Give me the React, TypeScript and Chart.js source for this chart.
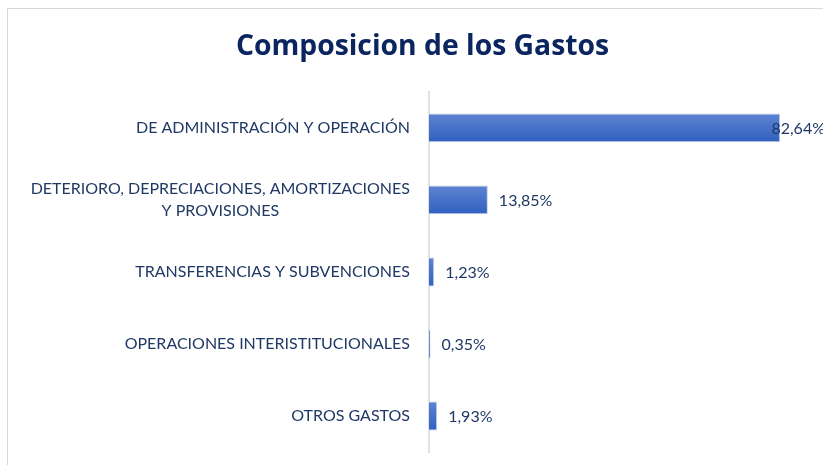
import React, { useEffect, useRef } from "react";
import { Chart, registerables } from "chart.js";

Chart.register(...registerables);

const chartTitle = "Composicion de los Gastos";
const categories: (string | string[])[] = [
  "DE ADMINISTRACIÓN Y OPERACIÓN",
  ["DETERIORO, DEPRECIACIONES, AMORTIZACIONES", "Y PROVISIONES"],
  "TRANSFERENCIAS Y SUBVENCIONES",
  "OPERACIONES INTERISTITUCIONALES",
  "OTROS GASTOS",
];
const values = [82.64, 13.85, 1.23, 0.35, 1.93];
const valueLabels = ["82,64%", "13,85%", "1,23%", "0,35%", "1,93%"];

const TEXT_COLOR = "#1f3864";
const TITLE_COLOR = "#0b2560";
const LABEL_FONT = "16px Lato";

const yLabelsPlugin = {
  id: "yLabels",
  afterDraw(chart: any) {
    const { ctx } = chart;
    const yScale = chart.scales.y;
    ctx.save();
    ctx.font = LABEL_FONT;
    ctx.fillStyle = TEXT_COLOR;
    ctx.textBaseline = "middle";
    ctx.textAlign = "center";
    const rightX = chart.chartArea.left - 19;
    const lh = 22;
    categories.forEach((c, i) => {
      const lines = Array.isArray(c) ? c : [c];
      const yc = yScale.getPixelForTick(i);
      const maxW = Math.max(...lines.map((l) => ctx.measureText(l).width));
      lines.forEach((l, j) => {
        const ly = yc + (j - (lines.length - 1) / 2) * lh;
        ctx.fillText(l, rightX - maxW / 2, ly);
      });
    });
    ctx.restore();
  },
};

const valueLabelsPlugin = {
  id: "valueLabels",
  afterDatasetsDraw(chart: any) {
    const { ctx } = chart;
    const meta = chart.getDatasetMeta(0);
    ctx.save();
    ctx.font = LABEL_FONT;
    ctx.fillStyle = TEXT_COLOR;
    ctx.textBaseline = "middle";
    ctx.textAlign = "left";
    const limit = 817;
    meta.data.forEach((bar: any, i: number) => {
      const txt = valueLabels[i];
      const w = ctx.measureText(txt).width;
      const x = Math.min(bar.x + 11, limit - w);
      ctx.fillText(txt, x, bar.y + 1);
    });
    ctx.restore();
  },
};

export default function App() {
  const ref = useRef<HTMLCanvasElement | null>(null);
  useEffect(() => {
    if (!ref.current) return;
    const chart = new Chart(ref.current, {
      type: "bar",
      data: {
        labels: categories as any,
        datasets: [
          {
            data: values,
            backgroundColor: (c: any) => {
              const ch = c.chart;
              const ys = ch.scales && ch.scales.y;
              if (!ys || !ch.chartArea) return "#4472c4";
              const yc = ys.getPixelForValue(c.dataIndex);
              const g = ch.ctx.createLinearGradient(0, yc - 15, 0, yc + 15);
              g.addColorStop(0, "#5f84d2");
              g.addColorStop(1, "#2f5fc0");
              return g;
            },
            borderColor: "#c3d1ec",
            borderWidth: 1,
            borderSkipped: "start",
            barPercentage: 0.4,
            categoryPercentage: 1,
          },
        ],
      },
      options: {
        indexAxis: "y",
        animation: false,
        responsive: true,
        maintainAspectRatio: false,
        layout: { padding: { left: 0, right: 0, top: 0, bottom: 13 } },
        plugins: {
          legend: { display: false },
          tooltip: { enabled: false },
          title: {
            display: true,
            text: chartTitle,
            color: TITLE_COLOR,
            font: { family: "'Open Sans'", size: 28.3, weight: "bold" },
            padding: { top: 21, bottom: 28 },
          },
        },
        scales: {
          x: {
            display: false,
            min: 0,
            max: 96,
          },
          y: {
            display: true,
            grid: { display: false },
            border: { display: true, color: "#dde1e8", width: 2 },
            ticks: { display: false },
            afterFit: (s: any) => {
              s.width = 421;
            },
          },
        },
      },
      plugins: [yLabelsPlugin, valueLabelsPlugin],
    });
    return () => chart.destroy();
  }, []);

  return (
    <div
      style={{
        position: "absolute",
        left: 7,
        top: 8,
        width: 816,
        height: 457,
        overflow: "hidden",
      }}
    >
      <div
        style={{
          width: 829,
          height: 456,
          borderTop: "1px solid #d9d9d9",
          borderLeft: "1px solid #d9d9d9",
          background: "#fff",
        }}
      >
        <div style={{ position: "relative", width: 829, height: 456 }}>
          <canvas ref={ref} />
        </div>
      </div>
    </div>
  );
}
